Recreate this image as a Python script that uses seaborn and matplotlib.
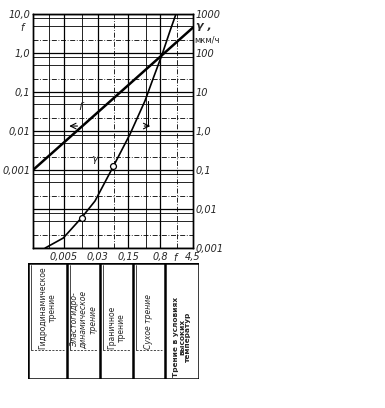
import numpy as np
import pandas as pd
import matplotlib
matplotlib.use("Agg")
import matplotlib.pyplot as plt
import seaborn as sns

# ---- data ----
f_line_x = [0.001, 0.005, 0.03, 0.15, 0.8, 4.5]
f_line_y = [0.001, 0.005, 0.03, 0.15, 0.8, 4.5]
gamma_f = [0.0019, 0.0049, 0.0129, 0.026, 0.068, 0.164, 0.36, 0.56, 0.89, 1.34, 1.84]
gamma_val = [0.001, 0.0018, 0.0060, 0.016, 0.123, 0.83, 5.9, 23.0, 93.0, 365.0, 1000.0]
circle_f = [0.0129, 0.068]
circle_gamma = [0.0060, 0.123]
x_ticks = [0.005, 0.03, 0.15, 0.8, 4.5]
x_ticklabels = ["0,005", "0,03", "0,15", "0,8", "4,5"]
left_ticks = [10.0, 1.0, 0.1, 0.01, 0.001]
left_ticklabels = ["10,0", "1,0", "0,1", "0,01", "0,001"]
right_ticks = [1000, 100, 10, 1, 0.1, 0.01, 0.001]
right_ticklabels = ["1000", "100", "10", "1,0", "0,1", "0,01", "0,001"]
regimes = ["Гидродинамическое\nтрение",
           "Эластогидро-\nдинамическое\nтрение",
           "Граничное\nтрение",
           "Сухое трение",
           "Трение в условиях\nвысоких\nтемператур"]

sns.set_style("white")
plt.rcParams["font.family"] = ["DejaVu Sans"]

W, H = 385, 408
fig = plt.figure(figsize=(W / 100, H / 100), dpi=100)

def fx(px):
    return px / W

def fy(py):
    return 1 - py / H

ax = fig.add_axes([fx(33), fy(248), (193 - 33) / W, (248 - 14) / H])
ax2 = ax.twinx()

ax.set_xscale("log")
ax.set_yscale("log")
ax2.set_yscale("log")
ax.set_xlim(0.001, 4.5)
ax.set_ylim(1e-5, 10)
ax2.set_ylim(0.001, 1000)

dashdot = (0, (6, 2, 1, 2))
# grid lines
for d in [1e-5, 1e-4, 1e-3, 1e-2, 1e-1, 1, 10]:
    ax.axhline(d, color="black", lw=0.9, zorder=1)
    ax.axhline(d * 0.8, color="black", lw=0.6, zorder=1)
    ax.axhline(d * 2.2, color="black", lw=0.6, ls=dashdot, zorder=1)
    ax.axhline(d * 5, color="black", lw=0.6, zorder=1)
for xv in x_ticks[:-1]:
    ax.axvline(xv, color="black", lw=0.9, zorder=1)
for xv, st in [(0.0023, "-"), (0.013, "-"), (0.07, dashdot), (0.38, "-"), (1.94, dashdot)]:
    ax.axvline(xv, color="black", lw=0.6, ls=st, zorder=1)

df_f = pd.DataFrame({"x": f_line_x, "y": f_line_y})
sns.lineplot(data=df_f, x="x", y="y", ax=ax, color="black", lw=1.8, zorder=3)
df_g = pd.DataFrame({"x": gamma_f, "y": gamma_val})
sns.lineplot(data=df_g, x="x", y="y", ax=ax2, color="black", lw=1.2, zorder=3)
df_c = pd.DataFrame({"x": circle_f, "y": circle_gamma})
sns.scatterplot(data=df_c, x="x", y="y", ax=ax2, marker="o", s=18,
                facecolor="white", edgecolor="black", linewidth=0.9, zorder=4)

ax.set_xticks(x_ticks)
ax.set_xticklabels(x_ticklabels)
ax.xaxis.set_minor_locator(matplotlib.ticker.NullLocator())
ax.set_yticks(left_ticks)
ax.set_yticklabels(left_ticklabels)
ax.yaxis.set_minor_locator(matplotlib.ticker.NullLocator())
ax2.set_yticks(right_ticks)
ax2.set_yticklabels(right_ticklabels)
ax2.yaxis.set_minor_locator(matplotlib.ticker.NullLocator())
for a in (ax, ax2):
    a.tick_params(length=0, labelsize=7, pad=2)
    for lab in a.get_xticklabels() + a.get_yticklabels():
        lab.set_fontstyle("italic")
    a.set_xlabel("")
    a.set_ylabel("")
    for s in a.spines.values():
        s.set_color("black")
        s.set_linewidth(1.0)
ax.tick_params(axis="x", pad=3)

# axis names
fig.text(fx(22), fy(28), "f", fontsize=7, style="italic", ha="center", va="center")
fig.text(fx(175), fy(258), "f", fontsize=7, style="italic", ha="center", va="center")
fig.text(fx(196), fy(26), "γ ,", fontsize=8, style="italic", ha="left", va="center", weight="bold")
fig.text(fx(194), fy(40), "мкм/ч", fontsize=6, ha="left", va="center")

# curve labels and arrows
ax.text(0.012, 0.041, "f", fontsize=8, style="italic", ha="center", va="center")
ax.annotate("", xy=(0.0058, 0.0134), xytext=(0.012, 0.0134),
            arrowprops=dict(arrowstyle="->", color="black", lw=0.8))
ax.text(0.026, 0.0019, "γ", fontsize=8, style="italic", ha="center", va="center")
ax.plot([0.42, 0.42], [0.0134, 0.06], color="black", lw=0.8)
ax.annotate("", xy=(0.55, 0.0134), xytext=(0.30, 0.0134),
            arrowprops=dict(arrowstyle="->", color="black", lw=0.8))

# regime table
tax = fig.add_axes([fx(28), fy(379), (199 - 28) / W, (379 - 263) / H])
tax.set_xlim(28, 199)
tax.set_ylim(379, 263)
tax.axis("off")
bounds = [28, 67, 100, 133, 165, 199]
for b in bounds:
    tax.plot([b, b], [263, 379], color="black", lw=1.8)
tax.plot([28, 199], [263, 263], color="black", lw=1.8)
tax.plot([28, 199], [379, 379], color="black", lw=1.8)
for i in range(4):
    tax.plot([bounds[i] + 3, bounds[i] + 3], [265, 350], color="black", lw=0.5)
    tax.plot([bounds[i] + 3, bounds[i + 1] - 3], [350, 350], color="black",
             lw=0.5, ls=(0, (3, 2)))
for i, name in enumerate(regimes):
    cx = (bounds[i] + bounds[i + 1]) / 2
    if i < 4:
        tax.text(cx, 349, name, rotation=90, fontsize=5.5, ha="center", va="bottom",
                 linespacing=1.0, style="italic" if i in (1, 3) else "normal")
    else:
        tax.text(cx, 377, name, rotation=90, fontsize=5.3, ha="center", va="bottom",
                 linespacing=1.0, weight="bold")

fig.savefig("out.png", dpi=100)
